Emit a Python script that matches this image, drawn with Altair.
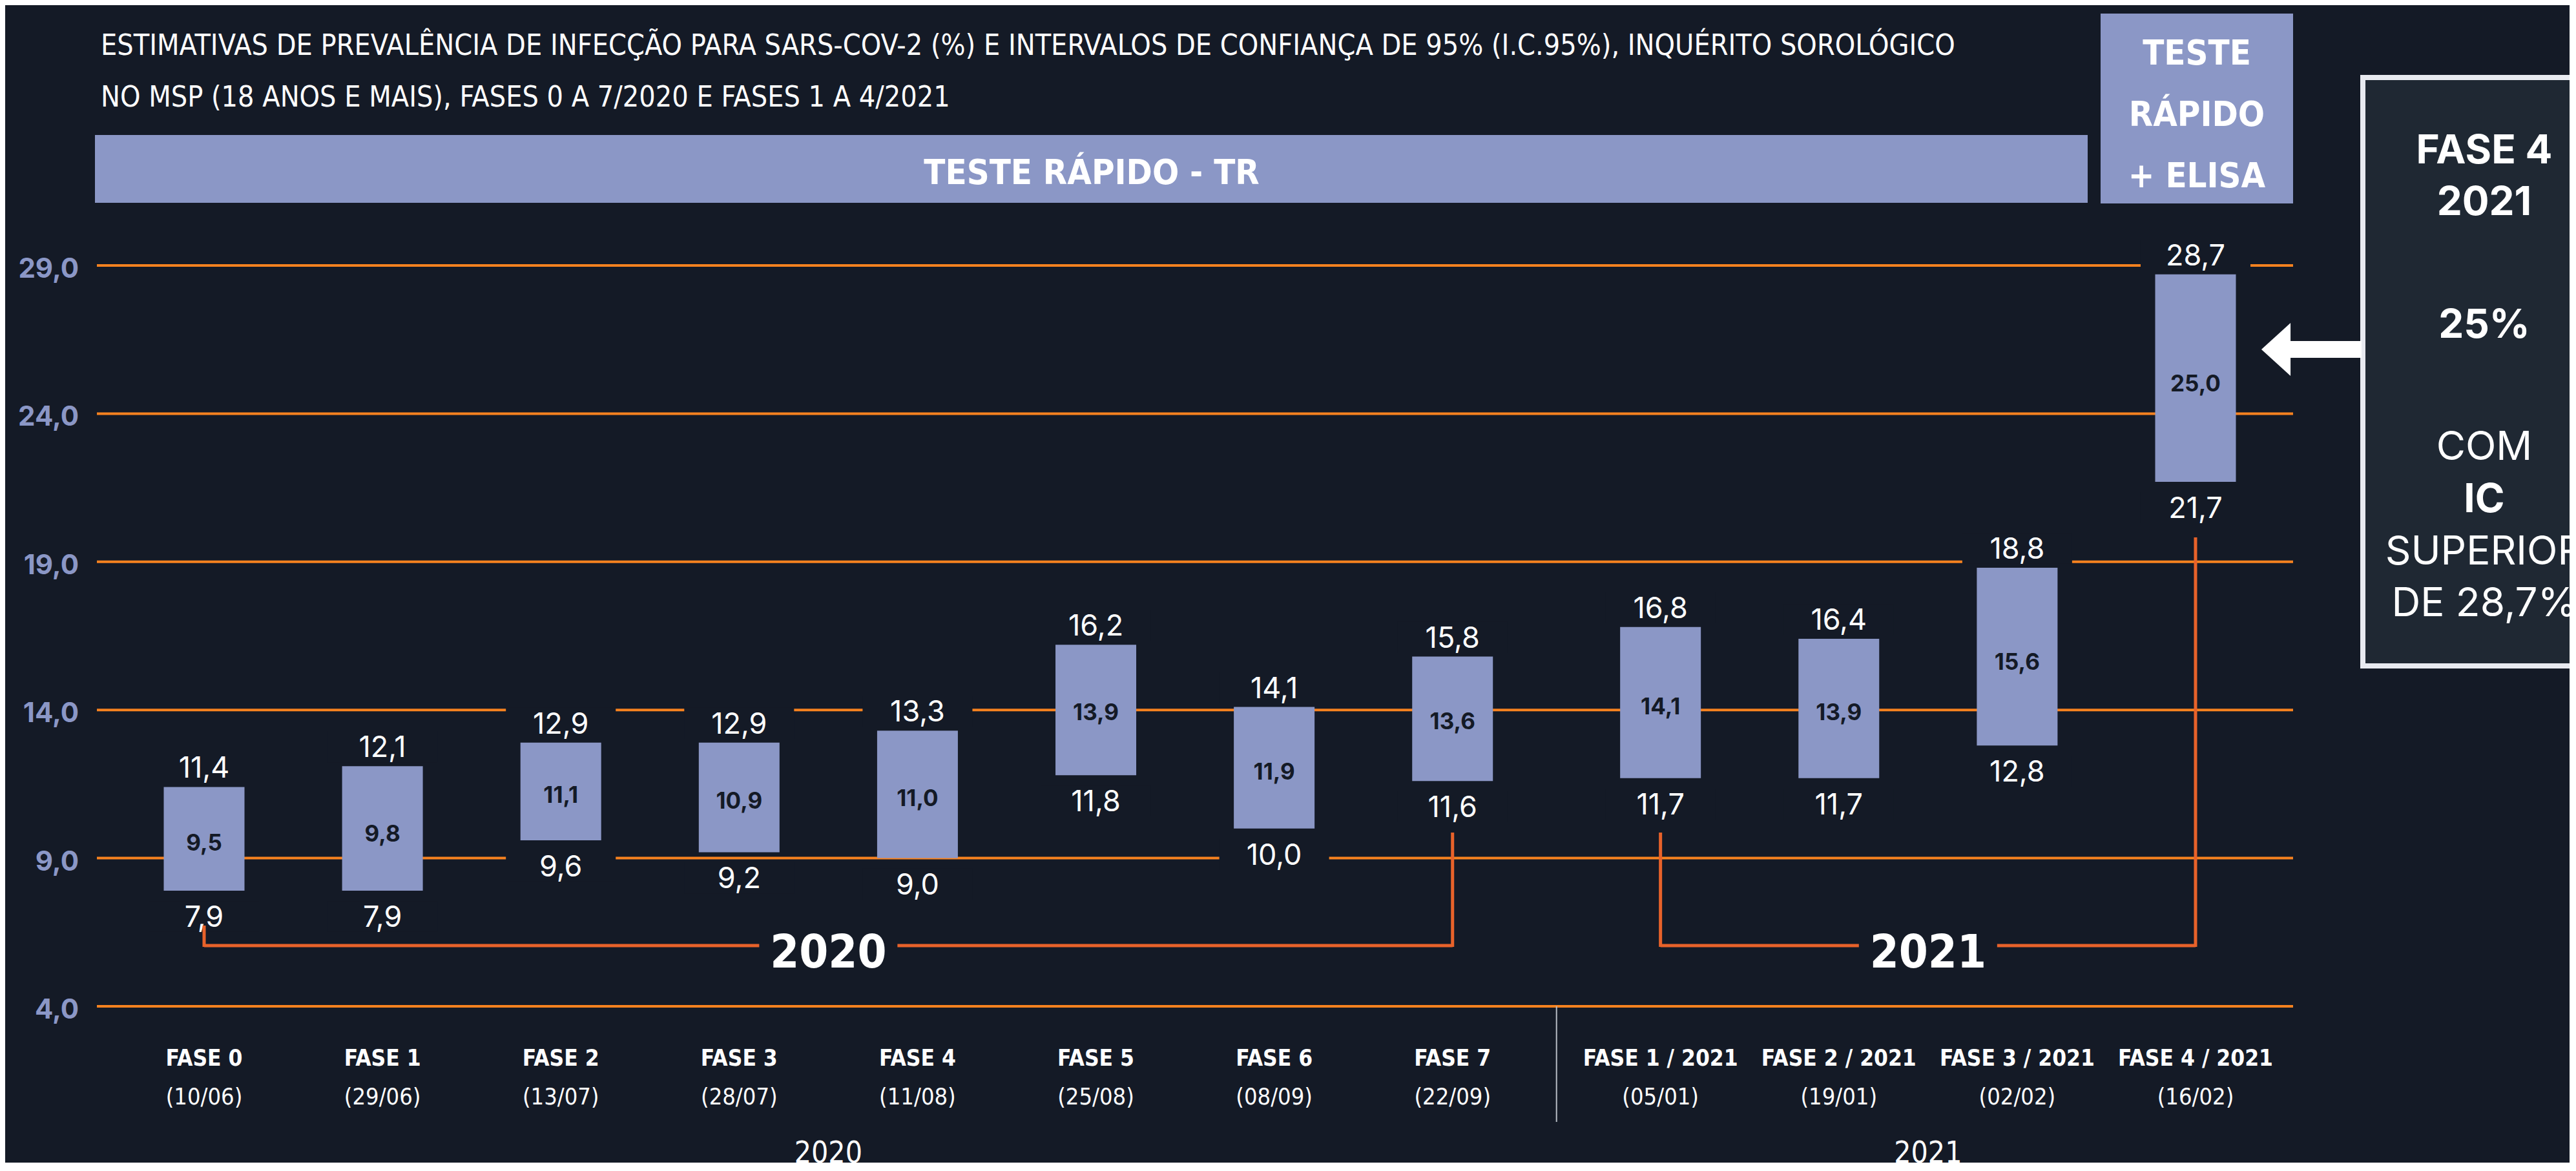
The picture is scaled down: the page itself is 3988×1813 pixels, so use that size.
import altair as alt
import pandas as pd

# ---------------- data ----------------
phases = ["FASE 0", "FASE 1", "FASE 2", "FASE 3", "FASE 4", "FASE 5", "FASE 6", "FASE 7",
          "FASE 1 / 2021", "FASE 2 / 2021", "FASE 3 / 2021", "FASE 4 / 2021"]
dates = ["(10/06)", "(29/06)", "(13/07)", "(28/07)", "(11/08)", "(25/08)", "(08/09)", "(22/09)",
         "(05/01)", "(19/01)", "(02/02)", "(16/02)"]
years = [2020] * 8 + [2021] * 4
estimate = [9.5, 9.8, 11.1, 10.9, 11.0, 13.9, 11.9, 13.6, 14.1, 13.9, 15.6, 25.0]
lower = [7.9, 7.9, 9.6, 9.2, 9.0, 11.8, 10.0, 11.6, 11.7, 11.7, 12.8, 21.7]
upper = [11.4, 12.1, 12.9, 12.9, 13.3, 16.2, 14.1, 15.8, 16.8, 16.4, 18.8, 28.7]
y_ticks = [4, 9, 14, 19, 24, 29]

title_lines = [
    "ESTIMATIVAS DE PREVALÊNCIA DE INFECÇÃO PARA SARS-COV-2 (%) E INTERVALOS DE CONFIANÇA DE 95% (I.C.95%), INQUÉRITO SOROLÓGICO",
    "NO MSP (18 ANOS E MAIS), FASES 0 A 7/2020 E FASES 1 A 4/2021",
]
banner_text = "TESTE RÁPIDO - TR"
box2_lines = ["TESTE", "RÁPIDO", "+  ELISA"]
side_texts = [("FASE 4", "bold"), ("2021", "bold"), ("25%", "bold"), ("COM", "normal"),
              ("IC", "bold"), ("SUPERIOR", "normal"), ("DE 28,7%", "normal")]

# ---------------- style ----------------
BG = "#141a26"
LAV = "#8b97c6"
ORANGE = "#f7821f"
RED = "#e8622a"
WHITE = "#ffffff"
COND = "'Liberation Sans Narrow', 'DejaVu Sans Condensed', 'Roboto Condensed', sans-serif"
GEO = "Inter, Lato, 'Noto Sans', sans-serif"

W, H = 3970, 1792
X0, STEP, GAP = 303, 277, 0.166


def fmt(v):
    return f"{v:.1f}".replace(".", ",")


pos = [i + (GAP if y == 2021 else 0) for i, y in enumerate(years)]
df = pd.DataFrame({
    "phase": phases, "date": dates, "year": years, "pos": pos,
    "est": estimate, "lo": lower, "hi": upper,
    "est_l": [fmt(v) for v in estimate],
    "lo_l": [fmt(v) for v in lower],
    "hi_l": [fmt(v) for v in upper],
})
grid_df = pd.DataFrame({"v": y_ticks, "lab": [fmt(v) for v in y_ticks]})

xs = alt.Scale(domain=[0, 11 + GAP], range=[X0, X0 + STEP * (11 + GAP)])
ys = alt.Scale(domain=[4, 29], range=[1550, 403])


def X(f="pos"):
    return alt.X(f"{f}:Q", scale=xs, axis=None)


def Y(f):
    return alt.Y(f"{f}:Q", scale=ys, axis=None)


one = pd.DataFrame({"k": [0]})
layers = []

# title
layers.append(alt.Chart(one).mark_text(align="left", baseline="alphabetic", font=COND, fontSize=44.5,
                                       lineHeight=80, color=WHITE)
              .encode(x=alt.value(148), y=alt.value(77), text=alt.value(title_lines)))
# banner
layers.append(alt.Chart(one).mark_rect(color=LAV)
              .encode(x=alt.value(139), x2=alt.value(3224), y=alt.value(201), y2=alt.value(306)))
layers.append(alt.Chart(one).mark_text(align="center", baseline="alphabetic", font=COND, fontSize=54,
                                       fontWeight="bold", color=WHITE)
              .encode(x=alt.value(1682), y=alt.value(277), text=alt.value(banner_text)))
# box 2
layers.append(alt.Chart(one).mark_rect(color=LAV)
              .encode(x=alt.value(3244), x2=alt.value(3542), y=alt.value(13), y2=alt.value(307)))
layers.append(alt.Chart(one).mark_text(align="center", baseline="alphabetic", font=COND, fontSize=54,
                                       fontWeight="bold", color=WHITE, lineHeight=95)
              .encode(x=alt.value(3393), y=alt.value(92), text=alt.value(box2_lines)))

# gridlines
layers.append(alt.Chart(grid_df).mark_rule(color=ORANGE, strokeWidth=4)
              .encode(x=alt.value(142), x2=alt.value(3542), y=Y("v")))
layers.append(alt.Chart(grid_df).mark_text(align="right", baseline="middle", dy=6, font=GEO,
                                           fontWeight="bold", fontSize=42, color=LAV)
              .encode(x=alt.value(114), y=Y("v"), text="lab:N"))

# background patches behind value labels (gaps in gridlines)
RECT = "M-1,-0.28L1,-0.28L1,0.28L-1,0.28Z"
layers.append(alt.Chart(df).mark_point(shape=RECT, size=170 ** 2, filled=True, color=BG, opacity=1,
                                       strokeWidth=0, yOffset=-30)
              .encode(x=X(), y=Y("hi")))
layers.append(alt.Chart(df).mark_point(shape=RECT, size=170 ** 2, filled=True, color=BG, opacity=1,
                                       strokeWidth=0, yOffset=40)
              .encode(x=X(), y=Y("lo")))

# bars
layers.append(alt.Chart(df).mark_bar(size=125, color=LAV)
              .encode(x=X(), y=Y("lo"), y2="hi:Q"))
layers.append(alt.Chart(df).mark_text(baseline="middle", font=GEO, fontWeight="bold", fontSize=35,
                                      color=BG)
              .encode(x=X(), y=Y("est"), text="est_l:N"))
layers.append(alt.Chart(df).mark_text(baseline="alphabetic", dy=-14, font=GEO, fontSize=45,
                                      color=WHITE)
              .encode(x=X(), y=Y("hi"), text="hi_l:N"))
layers.append(alt.Chart(df).mark_text(baseline="alphabetic", dy=56, font=GEO, fontSize=45,
                                      color=WHITE)
              .encode(x=X(), y=Y("lo"), text="lo_l:N"))

# brackets with year labels
bdf = (df.groupby("year").agg(start=("pos", "min"), end=("pos", "max")).reset_index())
bdf["mid"] = (bdf["start"] + bdf["end"]) / 2
bdf["label"] = bdf["year"].astype(str)
HY = 1456
layers.append(alt.Chart(bdf).mark_rule(color=RED, strokeWidth=5, x2Offset=-107)
              .encode(x=X("start"), x2="mid:Q", y=alt.value(HY)))
layers.append(alt.Chart(bdf).mark_rule(color=RED, strokeWidth=5, xOffset=107)
              .encode(x=X("mid"), x2="end:Q", y=alt.value(HY)))
tops = {(2020, "start"): 1425, (2020, "end"): 1281, (2021, "start"): 1281, (2021, "end"): 824}
for (yr, side), top in tops.items():
    sub = bdf[bdf["year"] == yr]
    layers.append(alt.Chart(sub).mark_rule(color=RED, strokeWidth=5)
                  .encode(x=X(side), y=alt.value(top), y2=alt.value(HY + 2)))
layers.append(alt.Chart(bdf).mark_text(baseline="alphabetic", font=COND, fontWeight="bold",
                                       fontSize=72, color=WHITE)
              .encode(x=X("mid"), y=alt.value(1490), text="label:N"))

# x labels
layers.append(alt.Chart(df).mark_text(baseline="alphabetic", font=COND, fontWeight="bold",
                                      fontSize=35, color=WHITE)
              .encode(x=X(), y=alt.value(1642), text="phase:N"))
layers.append(alt.Chart(df).mark_text(baseline="alphabetic", font=COND, fontSize=36, color=WHITE)
              .encode(x=X(), y=alt.value(1702), text="date:N"))
sep = pd.DataFrame({"pos": [(7 + 8 + GAP) / 2]})
layers.append(alt.Chart(sep).mark_rule(color="#b8bec6", strokeWidth=2)
              .encode(x=X(), y=alt.value(1550), y2=alt.value(1729)))
layers.append(alt.Chart(bdf).mark_text(baseline="alphabetic", font=COND, fontSize=46, color=WHITE)
              .encode(x=X("mid"), y=alt.value(1792), text="label:N"))

# side box with arrow
layers.append(alt.Chart(one).mark_rect(fill="#1f2833", stroke="#e8eaf0", strokeWidth=8)
              .encode(x=alt.value(3650), x2=alt.value(4030), y=alt.value(112), y2=alt.value(1023)))
side_y = [245, 325, 515, 704, 785, 866, 946]
for (txt, wt), yy in zip(side_texts, side_y):
    layers.append(alt.Chart(one).mark_text(align="center", baseline="alphabetic", font=GEO,
                                           fontSize=62, fontWeight=wt, color=WHITE)
                  .encode(x=alt.value(3838), y=alt.value(yy), text=alt.value(txt)))
layers.append(alt.Chart(one).mark_rule(color=WHITE, strokeWidth=26)
              .encode(x=alt.value(3535), x2=alt.value(3648), y=alt.value(533)))
layers.append(alt.Chart(one).mark_point(shape="M-0.55,0L0.55,-1L0.55,1Z", size=82 ** 2, filled=True,
                                        color=WHITE, opacity=1, strokeWidth=0)
              .encode(x=alt.value(3515.5), y=alt.value(533)))

chart = alt.layer(*layers).properties(
    width=W, height=H, background=BG, padding=0,
    autosize=alt.AutoSizeParams(type="none"),
).configure_view(strokeWidth=0)

chart.save("out.html", embed_options={"renderer": "svg", "actions": False})
